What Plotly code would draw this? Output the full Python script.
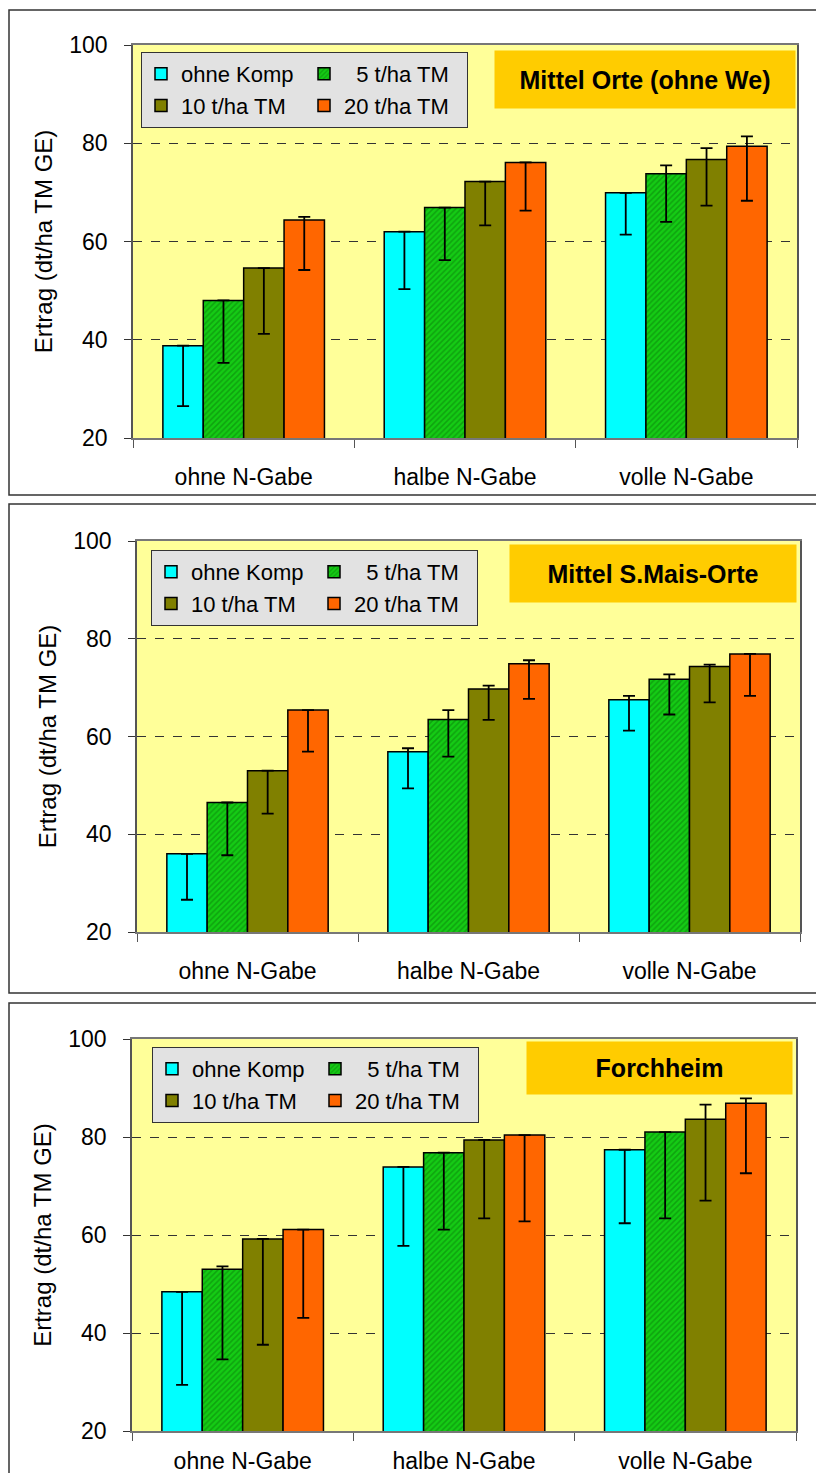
import plotly.graph_objects as go

# page is 824x1481; default body margin of 8px -> figure is 808x1465 placed at (8, 8)
PAGE_OFF = 8
W, H = 824 - 2 * PAGE_OFF, 1481 - 2 * PAGE_OFF

categories = ["ohne N-Gabe", "halbe N-Gabe", "volle N-Gabe"]
series_names = ["ohne Komp", "\u20075 t/ha TM", "10 t/ha TM", "20 t/ha TM"]
panel_titles = ["Mittel Orte (ohne We)", "Mittel S.Mais-Orte", "Forchheim"]
y_ticks = [20, 40, 60, 80, 100]
y_title = "Ertrag (dt/ha TM GE)"

# values per series (rows: ohne Komp, 5, 10, 20 t/ha) across categories
p1_mean = [[38.8, 62.0, 69.9], [48.0, 66.9, 73.8], [54.6, 72.2, 76.7], [64.4, 76.1, 79.4]]
p1_low = [[26.5, 50.3, 61.4], [35.3, 56.2, 64.0], [41.2, 63.3, 67.3], [54.2, 66.3, 68.3]]
p1_high = [[38.8, 62.0, 69.9], [48.0, 66.9, 75.5], [54.6, 72.2, 79.0], [65.0, 76.1, 81.4]]

p2_mean = [[36.0, 56.9, 67.5], [46.5, 63.5, 71.7], [53.0, 69.7, 74.3], [65.4, 74.9, 76.9]]
p2_low = [[26.6, 49.4, 61.2], [35.7, 55.9, 64.5], [44.2, 63.4, 67.0], [56.9, 67.7, 68.3]]
p2_high = [[36.0, 57.6, 68.3], [46.5, 65.4, 72.7], [53.0, 70.4, 74.7], [65.4, 75.6, 76.9]]

p3_mean = [[48.4, 73.9, 77.4], [53.0, 76.8, 81.0], [59.2, 79.4, 83.6], [61.1, 80.4, 86.9]]
p3_low = [[29.4, 57.8, 62.4], [34.6, 61.1, 63.4], [37.6, 63.4, 67.0], [43.1, 62.8, 72.6]]
p3_high = [[48.4, 73.9, 77.4], [53.6, 76.8, 81.0], [59.2, 79.4, 86.6], [61.1, 80.4, 87.9]]

colors = ["#00FFFF", "#14CC14", "#808000", "#FF6600"]

# layout positions in page pixels
panels = [
    dict(mean=p1_mean, low=p1_low, high=p1_high,
         plot=(133, 797, 45, 438), box=(9, 840, 10, 495),
         legend=(141, 52), title=(495, 795, 51, 108), xstand=18),
    dict(mean=p2_mean, low=p2_low, high=p2_high,
         plot=(137, 800, 541, 932), box=(9, 840, 504, 993),
         legend=(151, 550), title=(510, 796, 545, 602), xstand=18),
    dict(mean=p3_mean, low=p3_low, high=p3_high,
         plot=(132, 796, 1039, 1431), box=(9, 840, 1003, 1500),
         legend=(152, 1047), title=(527, 792, 1042, 1094), xstand=9),
]


def px(x):
    return (x - PAGE_OFF) / W


def py(y):
    return 1 - (y - PAGE_OFF) / H


FONT = "Liberation Sans, Arial, sans-serif"

fig = go.Figure()
layout = dict(
    width=W, height=H,
    autosize=False,
    margin=dict(l=0, r=0, t=0, b=0, pad=0),
    paper_bgcolor="white",
    plot_bgcolor="#FFFF99",
    barmode="group",
    bargap=0.27,
    bargroupgap=0,
    font=dict(family=FONT, color="black"),
    shapes=[], annotations=[],
)

for pi, p in enumerate(panels):
    k = "" if pi == 0 else str(pi + 1)
    xa, ya = "x" + k, "y" + k
    leg = "legend" + k
    for si, name in enumerate(series_names):
        mean = p["mean"][si]
        plus = [max(h - m, 0) for h, m in zip(p["high"][si], mean)]
        minus = [max(m - l, 0) for m, l in zip(mean, p["low"][si])]
        marker = dict(color=colors[si], line=dict(color="black", width=1.5))
        if si == 1:
            marker["pattern"] = dict(shape="/", fgcolor="#0A7A0A", size=4, solidity=0.4)
        fig.add_trace(go.Bar(
            x=categories, y=mean, name=name,
            marker=marker,
            error_y=dict(type="data", symmetric=False, array=plus, arrayminus=minus,
                         color="black", thickness=1.8, width=6),
            xaxis=xa, yaxis=ya, legend=leg,
            legendgroup=f"g{pi}{si % 2}",
        ))
    x0, x1, y0, y1 = p["plot"]
    layout["xaxis" + k] = dict(
        domain=[px(x0), px(x1)], anchor=ya, automargin=False,
        type="category", tickson="boundaries", ticks="outside", ticklen=8,
        tickcolor="#555", showline=True, linecolor="#777", linewidth=1.5, mirror=True,
        showgrid=False, tickfont=dict(size=23, family=FONT), ticklabelstandoff=p["xstand"],
    )
    layout["yaxis" + k] = dict(
        domain=[py(y1), py(y0)], anchor=xa, automargin=False,
        range=[20, 100], tickvals=y_ticks, ticks="outside", ticklen=7,
        tickcolor="#333", showline=True, linecolor="#555", linewidth=1.5, mirror=True,
        showgrid=True, gridcolor="#333", griddash="dash", gridwidth=1,
        tickfont=dict(size=23, family=FONT), ticklabelstandoff=12,
        title=dict(text=y_title, font=dict(size=24, family=FONT), standoff=10),
        zeroline=False,
    )
    lx, ly = p["legend"]
    layout[leg] = dict(
        x=px(lx), y=py(ly), xanchor="left", yanchor="top",
        orientation="h", traceorder="grouped", tracegroupgap=6,
        bgcolor="#E2E2E2", bordercolor="#333", borderwidth=1,
        font=dict(size=22, family=FONT), entrywidth=118,
    )
    bx0, bx1, by0, by1 = p["box"]
    layout["shapes"].append(dict(
        type="rect", xref="paper", yref="paper",
        x0=px(bx0), x1=px(bx1), y0=py(by1), y1=py(by0),
        line=dict(color="#333", width=1.5), fillcolor="rgba(0,0,0,0)", layer="above",
    ))
    tx0, tx1, ty0, ty1 = p["title"]
    layout["annotations"].append(dict(
        text="<b>" + panel_titles[pi] + "</b>", xref="paper", yref="paper",
        x=px((tx0 + tx1) / 2), y=py((ty0 + ty1) / 2),
        xanchor="center", yanchor="middle", showarrow=False,
        width=tx1 - tx0, height=ty1 - ty0, bgcolor="#FFCC00", borderpad=0,
        font=dict(size=25, family=FONT, color="black"),
    ))

fig.update_layout(**layout)
fig.write_html("out.html")
